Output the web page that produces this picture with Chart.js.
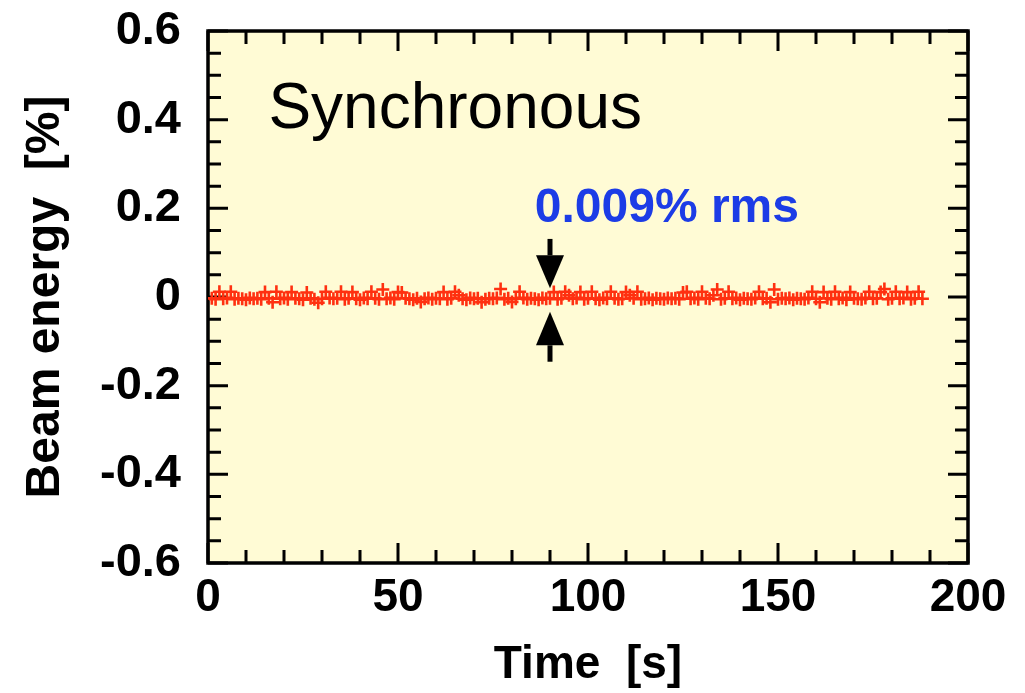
<!DOCTYPE html>
<html>
<head>
<meta charset="utf-8">
<script src="https://cdn.jsdelivr.net/npm/chart.js@4/dist/chart.umd.min.js"></script>
<style>
html,body{margin:0;padding:0;background:#fff;}
#c{display:block;}
</style>
</head>
<body>
<canvas id="c" width="1025" height="693"></canvas>
<script>
// ---- data ----
const xTickLabels = ["0", "50", "100", "150", "200"];
const yTickLabels = ["-0.6", "-0.4", "-0.2", "0", "0.2", "0.4", "0.6"];
const startTime = 1; // s, one sample per second
const energy = [
 -0.003,-0.005, 0.012,-0.004,-0.002, 0.012,-0.005,-0.003,-0.004,-0.006,
 -0.002,-0.004,-0.003,-0.005, 0.011,-0.003,-0.012, 0.012,-0.004,-0.002,
 -0.005, 0.011,-0.003,-0.004,-0.006, 0.010,-0.003,-0.005,-0.013,-0.004,
  0.012,-0.002,-0.004,-0.003, 0.012,-0.005,-0.003, 0.011,-0.004,-0.006,
 -0.002,-0.004, 0.012,-0.003,-0.005, 0.017,-0.004,-0.002,-0.005, 0.011,
  0.010,-0.003,-0.004,-0.006,-0.003,-0.011,-0.004,-0.002,-0.005,-0.003,
 -0.004, 0.011,-0.005,-0.003, 0.012, 0.004,-0.004,-0.006,-0.002,-0.004,
 -0.003,-0.012,-0.005,-0.003,-0.004,-0.002, 0.018,-0.005,-0.003,-0.011,
 -0.004, 0.012,-0.002,-0.005,-0.003,-0.004,-0.006,-0.002,-0.004,-0.003,
  0.011,-0.005,-0.003, 0.012, 0.004,-0.004,-0.002, 0.011,-0.005,-0.003,
  0.012,-0.004,-0.006,-0.002,-0.004, 0.012,-0.003,-0.005,-0.004, 0.011,
  0.004,-0.003, 0.012,-0.005,-0.004,-0.002,-0.006,-0.003,-0.004,-0.005,
 -0.002,-0.004,-0.003,-0.005, 0.010, 0.012,-0.004,-0.002,-0.005, 0.012,
 -0.003,-0.004, 0.004, 0.017,-0.005,-0.003, 0.012,-0.004,-0.002,-0.006,
 -0.003,-0.004,-0.005,-0.002, 0.012,-0.004,-0.003,-0.012, 0.017,-0.005,
 -0.003,-0.004,-0.002,-0.006,-0.003,-0.004,-0.005,-0.002, 0.012,-0.004,
 -0.012, 0.011,-0.003,-0.005, 0.012,-0.004,-0.002,-0.006, 0.011,-0.003,
 -0.004,-0.005,-0.002, 0.012,-0.004,-0.003, 0.011, 0.018,-0.005,-0.003,
  0.012,-0.004,-0.002, 0.011,-0.005,-0.003, 0.012,-0.004
];
const arrowTime = 90;
const downArrow = {tail: 0.131, headBase: 0.094, tip: 0.020};
const upArrow = {tail: -0.146, headBase: -0.109, tip: -0.033};
const labelMain = {text: "Synchronous", x: 15.9, y: 0.381};
const labelRms = {text: "0.009% rms", x: 86.0, y: 0.169};

const points = energy.map((v, i) => ({x: startTime + i, y: v}));

const FONT = "'Liberation Sans', Arial, Helvetica, sans-serif";

const decor = {
  id: 'decor',
  beforeDraw(chart) {
    const {ctx, chartArea: a} = chart;
    ctx.save();
    ctx.fillStyle = '#fffbd5';
    ctx.fillRect(a.left, a.top, a.right - a.left, a.bottom - a.top);
    ctx.restore();
  },
  beforeDatasetsDraw(chart) {
    const {ctx, chartArea: a, scales: {x, y}} = chart;
    ctx.save();
    ctx.strokeStyle = '#000';
    ctx.lineWidth = 3;
    ctx.lineCap = 'butt';
    ctx.beginPath();
    for (let v = 0; v <= 200; v += 10) {
      const px = x.getPixelForValue(v);
      const len = (v % 50 === 0) ? 20 : 13;
      ctx.moveTo(px, a.bottom); ctx.lineTo(px, a.bottom - len);
      ctx.moveTo(px, a.top); ctx.lineTo(px, a.top + len);
    }
    for (let k = -12; k <= 12; k++) {
      const v = k * 0.05;
      const py = y.getPixelForValue(v);
      const len = (k % 4 === 0) ? 20 : 13;
      ctx.moveTo(a.left, py); ctx.lineTo(a.left + len, py);
      ctx.moveTo(a.right, py); ctx.lineTo(a.right - len, py);
    }
    ctx.stroke();
    ctx.lineWidth = 3.5;
    ctx.strokeRect(a.left, a.top, a.right - a.left, a.bottom - a.top);
    ctx.restore();
  },
  afterDatasetsDraw(chart) {
    const {ctx, scales: {x, y}} = chart;
    ctx.save();
    const ax = x.getPixelForValue(arrowTime);
    const drawArrow = (ar) => {
      const tail = y.getPixelForValue(ar.tail);
      const base = y.getPixelForValue(ar.headBase);
      const tip = y.getPixelForValue(ar.tip);
      ctx.strokeStyle = '#000';
      ctx.lineWidth = 5;
      ctx.beginPath();
      ctx.moveTo(ax, tail); ctx.lineTo(ax, base);
      ctx.stroke();
      ctx.fillStyle = '#000';
      ctx.beginPath();
      ctx.moveTo(ax - 14, base); ctx.lineTo(ax + 14, base); ctx.lineTo(ax, tip);
      ctx.closePath();
      ctx.fill();
    };
    drawArrow(downArrow);
    drawArrow(upArrow);

    ctx.textBaseline = 'alphabetic';
    ctx.textAlign = 'left';
    ctx.fillStyle = '#000';
    ctx.font = "64px " + FONT;
    ctx.fillText(labelMain.text, x.getPixelForValue(labelMain.x), y.getPixelForValue(labelMain.y));
    ctx.fillStyle = '#1c3ce6';
    ctx.font = "bold 48px " + FONT;
    ctx.fillText(labelRms.text, x.getPixelForValue(labelRms.x), y.getPixelForValue(labelRms.y));
    ctx.restore();
  }
};

new Chart(document.getElementById('c'), {
  type: 'scatter',
  data: {
    datasets: [{
      data: points,
      pointStyle: 'cross',
      pointRadius: 6.5,
      pointBorderWidth: 2.6,
      borderColor: '#ff3010',
      backgroundColor: '#ff3010',
      showLine: false
    }]
  },
  options: {
    responsive: false,
    animation: false,
    devicePixelRatio: 1,
    layout: {padding: {top: 31, right: 57, left: 0, bottom: 0}},
    plugins: {legend: {display: false}, tooltip: {enabled: false}},
    scales: {
      x: {
        type: 'linear', min: 0, max: 200,
        grid: {display: false, drawTicks: false},
        border: {display: false},
        ticks: {
          stepSize: 50, padding: 8, color: '#000',
          font: {family: FONT, size: 46, weight: 'bold'},
          callback: (v) => xTickLabels[Math.round(v / 50)]
        },
        title: {display: true, text: 'Time  [s]', color: '#000', padding: {top: 0, bottom: 0},
          font: {family: FONT, size: 46, weight: 'bold'}},
        afterFit: (s) => { s.height = 130; s.paddingLeft = 0; s.paddingRight = 0; }
      },
      y: {
        type: 'linear', min: -0.6, max: 0.6,
        grid: {display: false, drawTicks: false},
        border: {display: false},
        ticks: {
          stepSize: 0.2, padding: 27, color: '#000',
          font: {family: FONT, size: 47, weight: 'bold'},
          callback: (v) => yTickLabels[Math.round((v + 0.6) / 0.2)]
        },
        title: {display: true, text: 'Beam energy  [%]', color: '#000', padding: {top: 17, bottom: 0},
          font: {family: FONT, size: 48, weight: 'bold'}},
        afterFit: (s) => { s.width = 208; s.paddingTop = 0; s.paddingBottom = 0; }
      }
    }
  },
  plugins: [decor]
});
</script>
</body>
</html>
